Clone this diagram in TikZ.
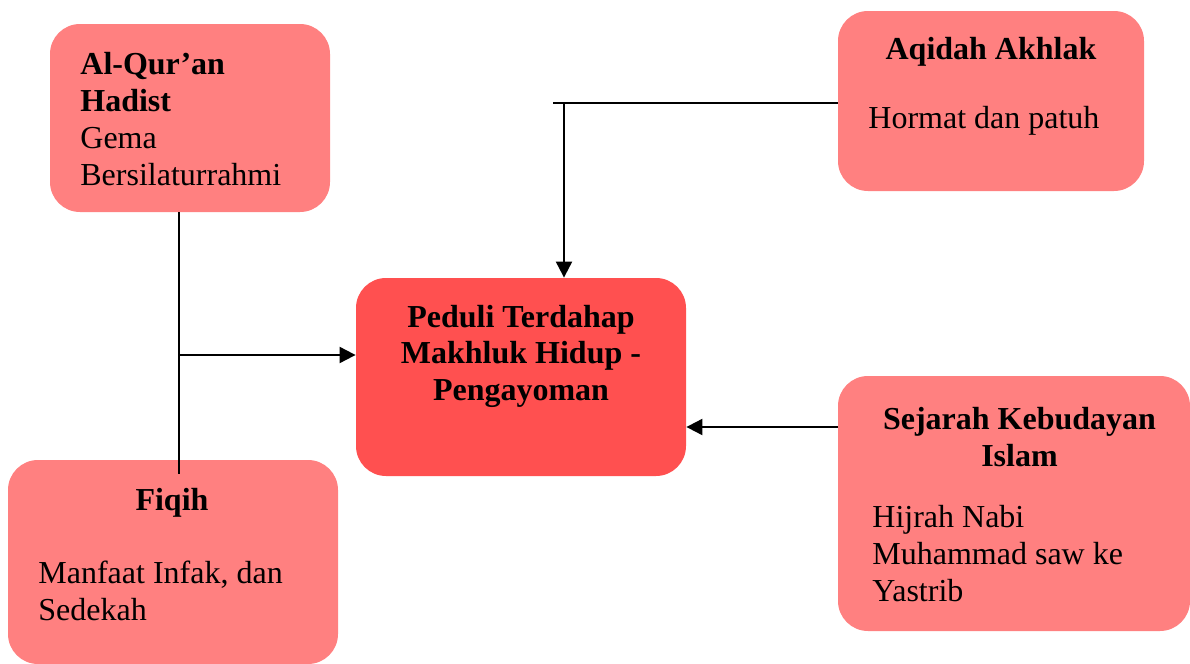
\documentclass[tikz,border=0pt]{standalone}
\usepackage{fontspec}
\setmainfont{Liberation Serif}
\usepackage{tikz}
\usetikzlibrary{arrows.meta}
\usetikzlibrary{positioning}
\definecolor{kotakmuda}{RGB}{255,128,128}
\definecolor{kotaktua}{RGB}{255,80,80}
\tikzset{
  kotak/.style={rectangle, rounded corners=15pt, fill=kotakmuda, draw=none, inner sep=0pt},
  teks/.style={inner sep=0pt, font=\fontsize{16pt}{18.5pt}\selectfont},
  panah/.style={line width=1pt, -{Triangle[length=8pt,width=8pt]}},
  garis/.style={line width=1pt}
}
\begin{document}
\begin{tikzpicture}[x=0.5pt, y=-0.5pt]
    \useasboundingbox (0, 0) rectangle (1190, 664);
    % kotak-kotak
    \node[kotak, minimum width=140pt, minimum height=94pt] (quran) at (190, 118) {};
    \node[kotak, minimum width=165pt, minimum height=102pt] (fiqih) at (173, 562) {};
    \node[kotak, fill=kotaktua, minimum width=165pt, minimum height=99pt] (pusat) at (521, 377) {};
    \node[kotak, minimum width=153pt, minimum height=90pt] (aqidah) at (991, 101) {};
    \node[kotak, minimum width=176pt, minimum height=127.5pt] (sejarah) at (1014, 503.5) {};
    % teks (base = garis dasar baris terakhir)
    \node[teks, anchor=base west, align=left] (tquran) at (80, 185)
      {\textbf{Al-Qur'an}\\\textbf{Hadist}\\Gema\\Bersilaturrahmi};
    \node[teks, anchor=base, font=\fontsize{16pt}{18.5pt}\selectfont\bfseries] (tfiqih) at (172, 510) {Fiqih};
    \node[teks, anchor=base west, align=left] (ifiqih) at (38, 620) {Manfaat Infak, dan\\Sedekah};
    \node[teks, anchor=base, align=center, font=\fontsize{16pt}{18.25pt}\selectfont\bfseries] (tpusat) at (521, 400)
      {Peduli Terdahap\\Makhluk Hidup -\\Pengayoman};
    \node[teks, anchor=base, font=\fontsize{16pt}{18.5pt}\selectfont\bfseries] (taqidah) at (991, 60) {Aqidah Akhlak};
    \node[teks, anchor=base west] (iaqidah) at (868, 128) {Hormat dan patuh};
    \node[teks, anchor=base, align=center, font=\fontsize{16pt}{18.5pt}\selectfont\bfseries] (tsejarah) at (1019.5, 466)
      {Sejarah Kebudayan\\Islam};
    \node[teks, anchor=base west, align=left] (isejarah) at (872, 601)
      {Hijrah Nabi\\Muhammad saw ke\\Yastrib};
    % penghubung
    \coordinate (cabangkiri) at (179, 355);
    \coordinate (cabangatas) at (564, 103);
    \coordinate (cabangkanan) at (760, 427);
    \draw[garis] (quran.south -| cabangkiri) -- ([yshift=-7pt]fiqih.north -| cabangkiri);
    \draw[panah] (cabangkiri) -- (pusat.west |- cabangkiri);
    \draw[garis] (aqidah.west |- cabangatas) -- ([xshift=-5.5pt]cabangatas);
    \draw[panah] (cabangatas) -- (pusat.north -| cabangatas);
    \draw[panah] (sejarah.west |- cabangkanan) -- (pusat.east |- cabangkanan);
  \end{tikzpicture}
\end{document}
